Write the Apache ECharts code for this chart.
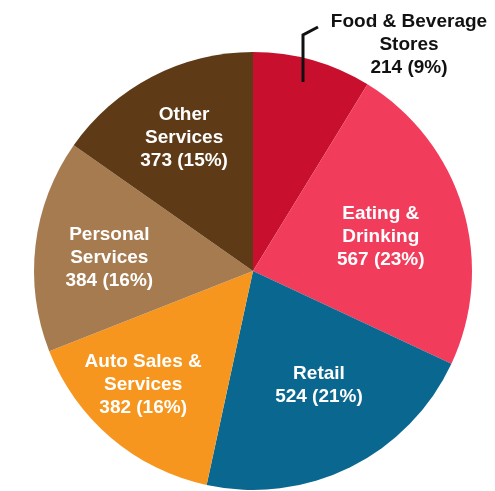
<!DOCTYPE html>
<html>
<head>
<meta charset="utf-8">
<title>Businesses by type</title>
<script src="https://cdn.jsdelivr.net/npm/echarts@6/dist/echarts.min.js"></script>
<style>
  html, body { margin: 0; padding: 0; background: #fff; }
  #main { width: 495px; height: 491px; }
</style>
</head>
<body>
<div id="main"></div>
<script>
// data, clockwise from 12 o'clock
var categories = ['Food & Beverage\nStores', 'Eating &\nDrinking', 'Retail',
                  'Auto Sales &\nServices', 'Personal\nServices', 'Other\nServices'];
var counts = [214, 567, 524, 382, 384, 373];
var colors = ['#c8102e', '#f23c5c', '#0a6890', '#f7961e', '#a77b50', '#5e3a17'];

// label nudges away from the default inside spot (half radius)
var labelOffsets = [[0, 0], [20, -2], [16, 13], [-37, 28], [-32, 0], [-17, -33]];

var CX = 253, CY = 271, R = 219;

var chart = echarts.init(document.getElementById('main'));

var items = categories.map(function (name, i) {
  var it = { name: name, value: counts[i], itemStyle: { color: colors[i] } };
  if (i === 0) {
    it.label = { position: 'outside', color: '#111' };
  } else {
    it.label = { position: 'inside', offset: labelOffsets[i] };
  }
  return it;
});

chart.setOption({
  backgroundColor: '#fff',
  animation: false,
  // leader line for the small slice, drawn over the sector
  graphic: [{
    type: 'polyline',
    z: 100,
    shape: { points: [[CX + 50, CY - 189], [CX + 50, CY - 236], [CX + 65, CY - 244]] },
    style: { stroke: '#111', lineWidth: 3, fill: null }
  }],
  series: [{
    type: 'pie',
    center: [CX, CY],
    radius: [0, R],
    startAngle: 90,
    clockwise: true,
    percentPrecision: 0,
    avoidLabelOverlap: false,
    itemStyle: { borderWidth: 0 },
    label: {
      formatter: '{b}\n{c} ({d}%)',
      color: '#fff',
      fontFamily: 'Liberation Sans, Arial, sans-serif',
      fontWeight: 'bold',
      fontSize: 19,
      lineHeight: 23,
      align: 'center'
    },
    labelLine: { show: false },
    labelLayout: function (p) {
      if (p.dataIndex !== 0) return {};
      return { x: 409, y: 45, align: 'center', verticalAlign: 'middle' };
    },
    data: items
  }]
});
</script>
</body>
</html>
